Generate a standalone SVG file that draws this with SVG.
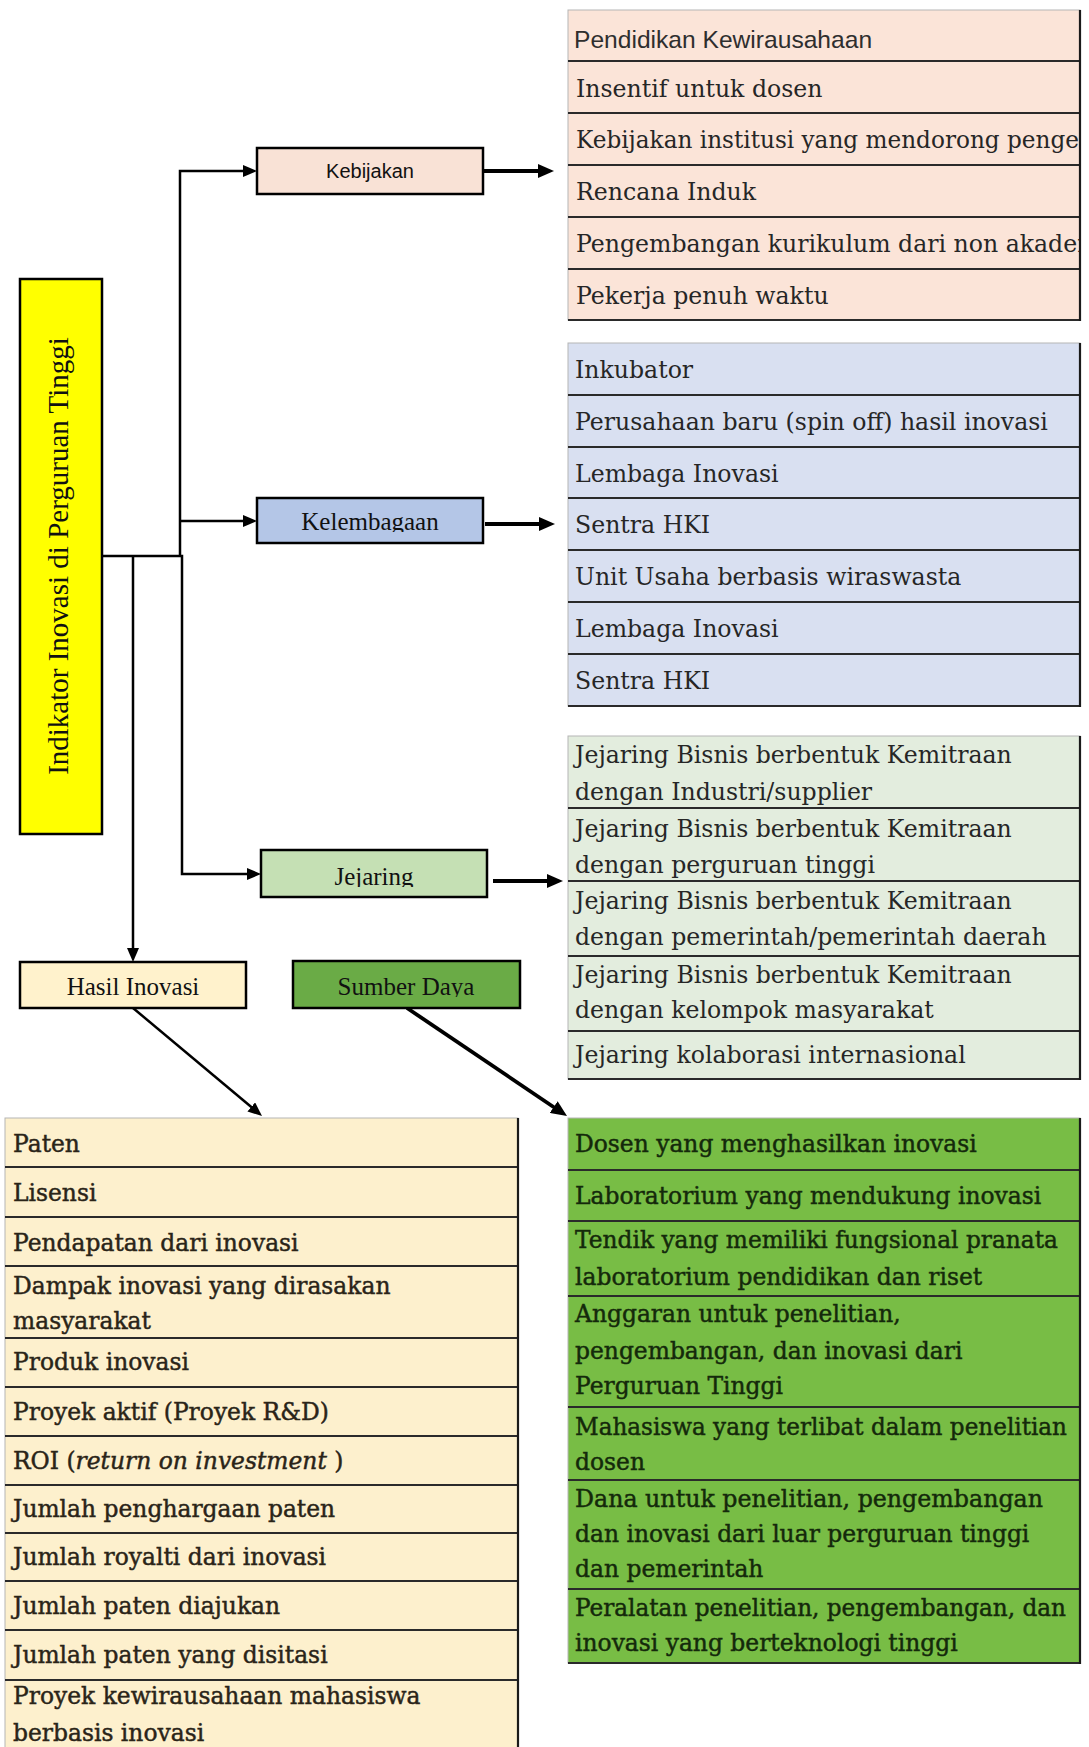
<svg xmlns="http://www.w3.org/2000/svg" width="1089" height="1747" viewBox="0 0 1089 1747">
  <style>
    .box { stroke: #000; stroke-width: 2.5; }
    .lbl { font-family: "Liberation Serif", serif; font-size: 25px; text-anchor: middle; fill: #111; }
    .lbls { font-family: "Liberation Sans", sans-serif; font-size: 20px; text-anchor: middle; fill: #111; }
    .cell { font-family: "DejaVu Serif", serif; font-size: 23.6px; fill: #262626; }
    .heavy { stroke: currentColor; stroke-width: 0.45; font-size: 23.4px; }
    .tbl { stroke: #b5b5b5; stroke-width: 1; }
    .sep { stroke: #2a2a2a; stroke-width: 2; }
    .edge { stroke: #1a1a1a; stroke-width: 2.2; }
    .conn { fill: none; stroke: #000; stroke-width: 2.5; }
    .thick { stroke-width: 3.8; }
  </style>
  <defs>
    <marker id="arr" markerUnits="userSpaceOnUse" markerWidth="14" markerHeight="12" viewBox="0 0 14 12" refX="2" refY="6" orient="auto">
      <path d="M0,0 L14,6 L0,12 z" fill="#000"/>
    </marker>
    <marker id="arrB" markerUnits="userSpaceOnUse" markerWidth="16" markerHeight="14" viewBox="0 0 16 14" refX="2" refY="7" orient="auto">
      <path d="M0,0 L16,7 L0,14 z" fill="#000"/>
    </marker>
    <clipPath id="clipKeb"><rect x="568" y="10" width="511" height="310"/></clipPath>
    <clipPath id="clipKel"><rect x="257" y="498" width="226" height="34"/></clipPath>
    <clipPath id="clipJej"><rect x="261" y="850" width="226" height="37"/></clipPath>
    <clipPath id="clipSum"><rect x="293" y="961" width="227" height="36"/></clipPath>
  </defs>

  <rect width="1089" height="1747" fill="#fff"/>

  <!-- connectors -->
  <g id="connectors">
    <path class="conn" d="M180,556 V171 H245" marker-end="url(#arr)"/>
    <path class="conn" d="M180,521 H245" marker-end="url(#arr)"/>
    <path class="conn" d="M102,556 H182 V874 H249" marker-end="url(#arr)"/>
    <path class="conn" d="M133,556 V950" marker-end="url(#arr)"/>
    <path class="conn thick" d="M483,171 H540" marker-end="url(#arrB)"/>
    <path class="conn thick" d="M485,524 H541" marker-end="url(#arrB)"/>
    <path class="conn thick" d="M493,881 H549" marker-end="url(#arrB)"/>
    <path class="conn" d="M133,1008 L252.8,1108.3" marker-end="url(#arr)"/>
    <path class="conn thick" d="M407,1008 L555.4,1108.2" marker-end="url(#arrB)"/>
  </g>

  <!-- root node -->
  <g id="root">
    <rect class="box" x="20" y="279" width="82" height="555" fill="#ffff00"/>
    <text class="lbl" transform="translate(68,556) rotate(-90)" style="font-size:29px">Indikator Inovasi di Perguruan Tinggi</text>
  </g>

  <!-- category nodes -->
  <g id="kebijakan">
    <rect class="box" x="257" y="148" width="226" height="46" fill="#f9e2d6"/>
    <text class="lbls" x="370" y="178">Kebijakan</text>
  </g>
  <g id="kelembagaan">
    <rect class="box" x="257" y="498" width="226" height="45" fill="#b4c6e7"/>
    <text class="lbl" x="370" y="530" clip-path="url(#clipKel)">Kelembagaan</text>
  </g>
  <g id="jejaring">
    <rect class="box" x="261" y="850" width="226" height="47" fill="#c5e0b4"/>
    <text class="lbl" x="374" y="885" clip-path="url(#clipJej)">Jejaring</text>
  </g>
  <g id="hasil-inovasi">
    <rect class="box" x="20" y="962" width="226" height="46" fill="#fff2cc"/>
    <text class="lbl" x="133" y="995">Hasil Inovasi</text>
  </g>
  <g id="sumber-daya">
    <rect class="box" x="293" y="961" width="227" height="47" fill="#6aab46"/>
    <text class="lbl" x="406" y="995" clip-path="url(#clipSum)">Sumber Daya</text>
  </g>

  <!-- Kebijakan list (long rows run past the right edge and are cut there) -->
  <g id="list-kebijakan">
    <rect class="tbl" x="568" y="10" width="512" height="310" fill="#fbe4d8"/>
    <path class="sep" d="M568,61 H1080 M568,113 H1080 M568,165 H1080 M568,217 H1080 M568,269 H1080 M568,320 H1080"/>
    <path class="edge" d="M1080,10 V321"/>
    <g clip-path="url(#clipKeb)">
      <text x="574" y="48" style="font-family:'Liberation Sans',sans-serif;font-size:24.6px;fill:#2e2e2e">Pendidikan Kewirausahaan</text>
      <text class="cell" x="576" y="97">Insentif untuk dosen</text>
      <text class="cell" x="576" y="148" textLength="503" lengthAdjust="spacingAndGlyphs">Kebijakan institusi yang mendorong penge</text>
      <text class="cell" x="576" y="200">Rencana Induk</text>
      <text class="cell" x="576" y="252">Pengembangan kurikulum dari non akadem</text>
      <text class="cell" x="576" y="304">Pekerja penuh waktu</text>
    </g>
  </g>

  <!-- Kelembagaan list -->
  <g id="list-kelembagaan">
    <rect class="tbl" x="568" y="343" width="512" height="363" fill="#d9e0f1"/>
    <path class="sep" d="M568,395 H1080 M568,447 H1080 M568,498 H1080 M568,550 H1080 M568,602 H1080 M568,654 H1080 M568,706 H1080"/>
    <path class="edge" d="M1080,343 V707"/>
    <text class="cell" x="575" y="378">Inkubator</text>
    <text class="cell" x="575" y="430">Perusahaan baru (spin off) hasil inovasi</text>
    <text class="cell" x="575" y="482">Lembaga Inovasi</text>
    <text class="cell" x="575" y="533">Sentra HKI</text>
    <text class="cell" x="575" y="585">Unit Usaha berbasis wiraswasta</text>
    <text class="cell" x="575" y="637">Lembaga Inovasi</text>
    <text class="cell" x="575" y="689">Sentra HKI</text>
  </g>

  <!-- Jejaring list -->
  <g id="list-jejaring">
    <rect class="tbl" x="568" y="736" width="512" height="343" fill="#e3edde"/>
    <path class="sep" d="M568,808 H1080 M568,881 H1080 M568,956 H1080 M568,1031 H1080 M568,1079 H1080"/>
    <path class="edge" d="M1080,736 V1080"/>
    <text class="cell" x="575" y="763">Jejaring Bisnis berbentuk Kemitraan</text>
    <text class="cell" x="575" y="800">dengan Industri/supplier</text>
    <text class="cell" x="575" y="837">Jejaring Bisnis berbentuk Kemitraan</text>
    <text class="cell" x="575" y="873">dengan perguruan tinggi</text>
    <text class="cell" x="575" y="909">Jejaring Bisnis berbentuk Kemitraan</text>
    <text class="cell" x="575" y="945">dengan pemerintah/pemerintah daerah</text>
    <text class="cell" x="575" y="983">Jejaring Bisnis berbentuk Kemitraan</text>
    <text class="cell" x="575" y="1018">dengan kelompok masyarakat</text>
    <text class="cell" x="575" y="1063">Jejaring kolaborasi internasional</text>
  </g>

  <!-- Hasil Inovasi list -->
  <g id="list-hasil-inovasi">
    <rect class="tbl" x="5" y="1118" width="513" height="650" fill="#fdf0cd"/>
    <path class="sep" d="M5,1167 H518 M5,1217 H518 M5,1266 H518 M5,1338 H518 M5,1387 H518 M5,1436 H518 M5,1485 H518 M5,1533 H518 M5,1581 H518 M5,1630 H518 M5,1680 H518"/>
    <path class="edge" d="M518,1118 V1747"/>
    <g class="cell heavy" style="fill:#2a2418;color:#2a2418">
      <text x="13" y="1152">Paten</text>
      <text x="13" y="1201">Lisensi</text>
      <text x="13" y="1251">Pendapatan dari inovasi</text>
      <text x="13" y="1294">Dampak inovasi yang dirasakan</text>
      <text x="13" y="1329">masyarakat</text>
      <text x="13" y="1370">Produk inovasi</text>
      <text x="13" y="1420">Proyek aktif (Proyek R&amp;D)</text>
      <text x="13" y="1469">ROI (<tspan font-style="italic">return on investment</tspan> )</text>
      <text x="13" y="1517">Jumlah penghargaan paten</text>
      <text x="13" y="1565">Jumlah royalti dari inovasi</text>
      <text x="13" y="1614">Jumlah paten diajukan</text>
      <text x="13" y="1663">Jumlah paten yang disitasi</text>
      <text x="13" y="1704">Proyek kewirausahaan mahasiswa</text>
      <text x="13" y="1741">berbasis inovasi</text>
    </g>
  </g>

  <!-- Sumber Daya list -->
  <g id="list-sumber-daya">
    <rect class="tbl" x="568" y="1118" width="512" height="545" fill="#78bd45"/>
    <path class="sep" d="M568,1170 H1080 M568,1221 H1080 M568,1296 H1080 M568,1407 H1080 M568,1480 H1080 M568,1589 H1080 M568,1663 H1080"/>
    <path class="edge" d="M1080,1118 V1664"/>
    <g class="cell heavy" style="fill:#14290b;color:#14290b">
      <text x="575" y="1152">Dosen yang menghasilkan inovasi</text>
      <text x="575" y="1204">Laboratorium yang mendukung inovasi</text>
      <text x="575" y="1248" textLength="483" lengthAdjust="spacingAndGlyphs">Tendik yang memiliki fungsional pranata</text>
      <text x="575" y="1285">laboratorium pendidikan dan riset</text>
      <text x="575" y="1322">Anggaran untuk penelitian,</text>
      <text x="575" y="1359">pengembangan, dan inovasi dari</text>
      <text x="575" y="1394">Perguruan Tinggi</text>
      <text x="575" y="1435" textLength="492" lengthAdjust="spacingAndGlyphs">Mahasiswa yang terlibat dalam penelitian</text>
      <text x="575" y="1470">dosen</text>
      <text x="575" y="1507" textLength="468" lengthAdjust="spacingAndGlyphs">Dana untuk penelitian, pengembangan</text>
      <text x="575" y="1542">dan inovasi dari luar perguruan tinggi</text>
      <text x="575" y="1577">dan pemerintah</text>
      <text x="575" y="1616" textLength="491" lengthAdjust="spacingAndGlyphs">Peralatan penelitian, pengembangan, dan</text>
      <text x="575" y="1651">inovasi yang berteknologi tinggi</text>
    </g>
  </g>
</svg>
